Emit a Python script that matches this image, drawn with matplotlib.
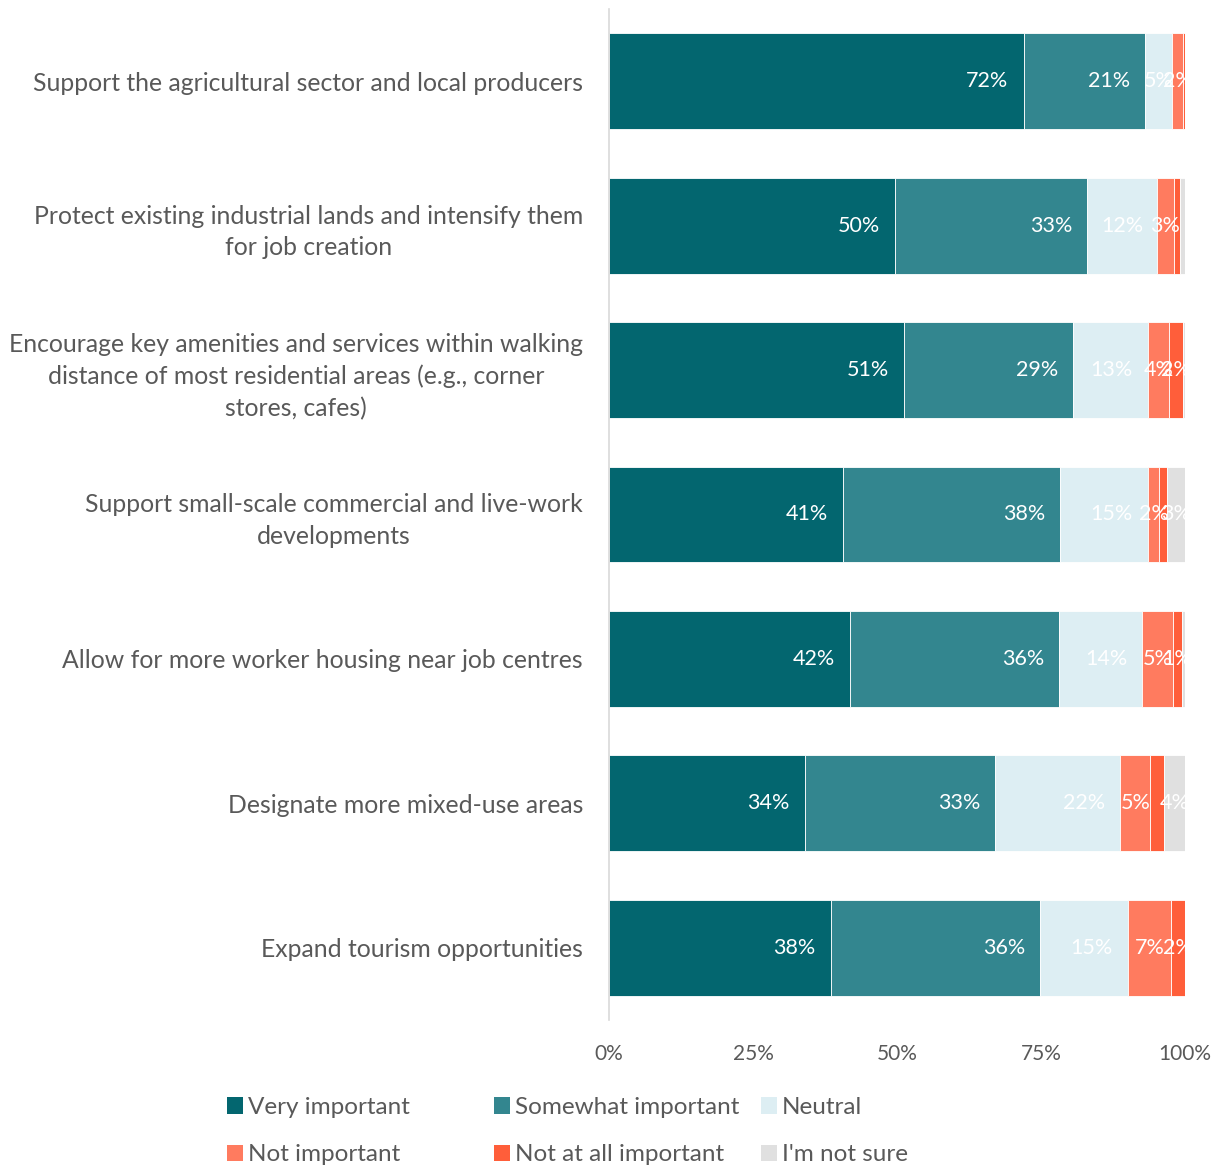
import matplotlib
matplotlib.use("Agg")
import matplotlib.pyplot as plt
from matplotlib.patches import Patch
import numpy as np

plt.rcParams['font.family'] = ['Lato', 'DejaVu Sans']

categories = [
    "Support the agricultural sector and local producers",
    "Protect existing industrial lands and intensify them\nfor job creation",
    "Encourage key amenities and services within walking\ndistance of most residential areas (e.g., corner\nstores, cafes)",
    "Support small-scale commercial and live-work\ndevelopments",
    "Allow for more worker housing near job centres",
    "Designate more mixed-use areas",
    "Expand tourism opportunities",
]
series_names = ["Very important", "Somewhat important", "Neutral",
                "Not important", "Not at all important", "I'm not sure"]
very_important = [72.0, 49.6, 51.2, 40.6, 41.7, 34.0, 38.2]
somewhat_important = [21.1, 33.4, 29.4, 37.7, 36.2, 33.0, 36.1]
neutral = [4.7, 12.1, 13.0, 15.3, 14.4, 21.7, 15.1]
not_important = [1.9, 3.0, 3.6, 1.9, 5.4, 5.2, 7.4]
not_at_all_important = [0.3, 1.0, 2.4, 1.4, 1.4, 2.4, 2.4]
not_sure = [0.0, 0.9, 0.4, 3.1, 0.6, 3.6, 0.0]
# which segments carry a visible data label in the reference
show_label = [
    [True, True, True, True, False, False],
    [True, True, True, True, False, False],
    [True, True, True, True, True, False],
    [True, True, True, True, False, True],
    [True, True, True, True, True, False],
    [True, True, True, True, False, True],
    [True, True, True, True, True, False],
]
x_ticks = [0, 25, 50, 75, 100]
x_tick_labels = ["0%", "25%", "50%", "75%", "100%"]

colors = ["#03666F", "#33868F", "#DDEEF3", "#FF7B5F", "#FF5E3A", "#E0E0E0"]
gray = "#595959"

data = np.array([very_important, somewhat_important, neutral,
                 not_important, not_at_all_important, not_sure]).T
data_norm = data / data.sum(axis=1, keepdims=True) * 100

fig = plt.figure(figsize=(12.18, 11.67), dpi=100)
ax = fig.add_axes([609/1218, 1 - 1020/1167, (1185-609)/1218, (1020-9)/1167])

n = len(categories)
y = np.arange(n)
left = np.zeros(n)
px_per_pct = 5.76
for j in range(data.shape[1]):
    w = data_norm[:, j]
    ax.barh(y, w, left=left, height=0.664, color=colors[j],
            edgecolor="white", linewidth=0.6, label=series_names[j])
    for i in range(n):
        if show_label[i][j]:
            txt = f"{round(data[i, j])}%"
            tw = len(txt) * 13.5 / px_per_pct  # approx text width in %
            end = left[i] + w[i]
            pad = min(16 / px_per_pct, (w[i] - tw) / 2)
            cx = end - pad - tw / 2
            ax.text(cx, y[i], txt, ha="center", va="center", color="white",
                    fontsize=15.5, clip_on=True)
    left += w

ax.set_xlim(0, 100)
ax.set_ylim(n - 0.5, -0.5)
ax.set_yticks(y)
ax.set_yticklabels(categories, fontsize=17.8, color=gray,
                   multialignment="center", linespacing=1.45)
ax.set_xticks(x_ticks)
ax.set_xticklabels(x_tick_labels, fontsize=15, color=gray)
ax.tick_params(axis="both", length=0)
ax.tick_params(axis="y", pad=18.7)
ax.tick_params(axis="x", pad=17)
for s in ["top", "right", "bottom"]:
    ax.spines[s].set_visible(False)
ax.spines["left"].set_color("#D9D9D9")
ax.spines["left"].set_linewidth(1.2)

handles = [Patch(facecolor=c, edgecolor="none") for c in colors]
col_x = [227, 494, 761]
for c in range(3):
    idx = [c, c + 3]
    fig.legend([handles[k] for k in idx], [series_names[k] for k in idx],
               loc="upper left", bbox_to_anchor=(col_x[c]/1218, 1 - 1097/1167),
               ncol=1, frameon=False, fontsize=17.5, labelcolor=gray,
               handlelength=0.65, handleheight=0.65, handletextpad=0.2,
               labelspacing=1.08, borderpad=0.0, borderaxespad=0.0)

fig.savefig("out.png", dpi=100)
